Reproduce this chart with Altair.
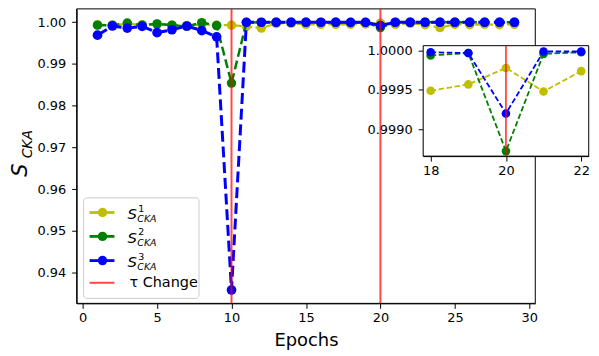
import altair as alt
import pandas as pd

# ---------------- data ----------------
epochs = list(range(1, 30))
s1 = [0.9994, 0.9993, 0.9996, 0.9994, 0.9995, 0.9993, 0.9992, 0.9995, 0.9993, 0.9993,
      0.9990, 0.9986, 0.9997, 0.9997, 0.9995, 0.9995, 0.9995, 0.99949, 0.99957, 0.99978,
      0.99948, 0.99974, 0.9994, 0.9987, 0.9995, 0.9994, 0.9995, 0.9994, 0.9995]
s2 = [0.9993, 0.9993, 0.9998, 0.9993, 0.9996, 0.9993, 0.9990, 0.9999, 0.9992, 0.9854,
      0.99995, 0.99997, 0.99998, 0.99998, 0.99998, 0.99997, 0.99998, 0.99994, 0.99997, 0.99872,
      0.99996, 0.99998, 0.99998, 0.99998, 0.99998, 0.99998, 0.99998, 0.99998, 0.99998]
s3 = [0.9969, 0.9991, 0.9986, 0.9990, 0.9975, 0.9982, 0.9991, 0.9980, 0.9965, 0.9358,
      0.99998, 0.99999, 0.99999, 0.99999, 0.99999, 0.99999, 0.99999, 0.99998, 0.99997, 0.9992,
      0.99999, 0.99999, 0.99999, 0.99999, 0.99999, 0.99999, 0.99999, 0.99999, 0.99999]
tau_epochs = [10, 20]
inset_epochs = [18, 19, 20, 21, 22]
inset_tau = [20]

x_ticks = [0, 5, 10, 15, 20, 25, 30]
y_ticks = [0.94, 0.95, 0.96, 0.97, 0.98, 0.99, 1.00]
inset_x_ticks = [18, 20, 22]
inset_y_ticks = [0.9990, 0.9995, 1.0000]

main_x_domain = [-0.4, 30.4]
main_y_domain = [0.9326, 1.0032]
inset_x_domain = [17.8, 22.2]
inset_y_domain = [0.998656, 1.000064]

legend_labels = ["1", "2", "3"]

# ---------------- styles ----------------
FONT = "DejaVu Sans"
W, H = 461, 296
YEL, GRN, BLU, RED = "#bfbf00", "#008000", "#0000ff", "#ff0000"

df = pd.DataFrame({"epoch": epochs, "s1": s1, "s2": s2, "s3": s3})
tau_df = pd.DataFrame({"epoch": tau_epochs})
inset_df = df[df["epoch"].isin(inset_epochs)]
inset_tau_df = pd.DataFrame({"epoch": inset_tau,
                             "y0": [inset_y_domain[0]], "y1": [inset_y_domain[1]]})
frame_df = pd.DataFrame({"x0": [inset_x_domain[0]], "x1": [inset_x_domain[1]],
                         "y0": [inset_y_domain[0]], "y1": [inset_y_domain[1]]})
one = pd.DataFrame({"a": [0]})

common_axis = dict(tickSize=5, tickColor="black", tickWidth=1, domainColor="black",
                   domainWidth=1, labelColor="black", labelFont=FONT, labelFontSize=13,
                   grid=False)

main_x_scale = alt.Scale(domain=main_x_domain, nice=False, zero=False)
main_y_scale = alt.Scale(domain=main_y_domain, nice=False, zero=False)
main_x_axis = alt.Axis(values=x_ticks, format="d", title="Epochs", titleFont=FONT,
                       titleFontSize=18, titleFontWeight="normal", titleColor="black",
                       titlePadding=7, labelPadding=3, **common_axis)
main_y_axis = alt.Axis(values=y_ticks, format=".2f", title=None, labelPadding=6,
                       **common_axis)

ins_x_scale = alt.Scale(domain=inset_x_domain, range=[348.3, 514.7], nice=False, zero=False)
ins_y_scale = alt.Scale(domain=inset_y_domain, range=[148, 37], nice=False, zero=False)
ins_x_axis = alt.Axis(values=inset_x_ticks, format="d", title=None, orient="bottom",
                      offset=-(H - 148), labelPadding=3, **common_axis)
ins_y_axis = alt.Axis(values=inset_y_ticks, format=".4f", title=None, orient="left",
                      offset=-348.3, labelPadding=6, **common_axis)


def mx(field="epoch"):
    return alt.X(f"{field}:Q", scale=main_x_scale, axis=main_x_axis)


def my(field):
    return alt.Y(f"{field}:Q", scale=main_y_scale, axis=main_y_axis)


def ix(field="epoch"):
    return alt.X(f"{field}:Q", scale=ins_x_scale, axis=ins_x_axis)


def iy(field):
    return alt.Y(f"{field}:Q", scale=ins_y_scale, axis=ins_y_axis)


def series(data, field, color, width, dash, size, xf, yf):
    return alt.Chart(data).mark_line(
        color=color, strokeWidth=width, strokeDash=dash,
        point=alt.OverlayMarkDef(filled=True, size=size, color=color, opacity=1),
    ).encode(x=xf(), y=yf(field))


# ---------------- main panel ----------------
main_frame = alt.Chart(one).mark_rect(fill="white", fillOpacity=0, stroke="black",
                                      strokeWidth=1).encode(
    x=alt.value(0), x2=alt.value("width"), y=alt.value(0), y2=alt.value("height"))

m1 = series(df, "s1", YEL, 2.2, [7.4, 3.2], 90, mx, my)
m2 = series(df, "s2", GRN, 2.5, [9, 4], 90, mx, my)
m3 = series(df, "s3", BLU, 3, [11, 4.8], 95, mx, my)
m_tau = alt.Chart(tau_df).mark_rule(color=RED, strokeWidth=2, opacity=0.72).encode(x=mx())

ytitle_s = alt.Chart(one).mark_text(text="S", font=FONT, fontSize=21, fontStyle="italic",
                                     angle=270, align="center", baseline="middle",
                                     color="black").encode(x=alt.value(-56), y=alt.value(162))
ytitle_sub = alt.Chart(one).mark_text(text="CKA", font=FONT, fontSize=14, fontStyle="italic",
                                       angle=270, align="center", baseline="middle",
                                       color="black").encode(x=alt.value(-49), y=alt.value(136))

main = alt.layer(main_frame, m1, m2, m3, m_tau, ytitle_s, ytitle_sub)

# ---------------- legend ----------------
leg_box = alt.Chart(one).mark_rect(fill="white", fillOpacity=0.8, stroke="#cccccc",
                                   strokeWidth=1, cornerRadius=3).encode(
    x=alt.value(7), x2=alt.value(123), y=alt.value(190), y2=alt.value(291))
leg_layers = [leg_box]
rows = [204.7, 228.7, 253.0]
for lab, col, ry in zip(legend_labels, [YEL, GRN, BLU], rows):
    leg_layers.append(alt.Chart(one).mark_rule(color=col, strokeWidth=2.8).encode(
        x=alt.value(13), x2=alt.value(38), y=alt.value(ry)))
    leg_layers.append(alt.Chart(one).mark_point(filled=True, color=col, size=90, opacity=1,
                                                shape="circle").encode(
        x=alt.value(26), y=alt.value(ry)))
    leg_layers.append(alt.Chart(one).mark_text(text="S", font=FONT, fontSize=15,
                                               fontStyle="italic", align="left",
                                               baseline="middle", color="black").encode(
        x=alt.value(51), y=alt.value(ry + 1.5)))
    leg_layers.append(alt.Chart(one).mark_text(text=lab, font=FONT, fontSize=9.5,
                                               align="left", baseline="middle",
                                               color="black").encode(
        x=alt.value(62), y=alt.value(ry - 4)))
    leg_layers.append(alt.Chart(one).mark_text(text="CKA", font=FONT, fontSize=9.5,
                                               fontStyle="italic", align="left",
                                               baseline="middle", color="black").encode(
        x=alt.value(61), y=alt.value(ry + 6.5)))
leg_layers.append(alt.Chart(one).mark_rule(color=RED, strokeWidth=2, opacity=0.72).encode(
    x=alt.value(13), x2=alt.value(38), y=alt.value(275.3)))
leg_layers.append(alt.Chart(one).mark_text(text="τ Change", font=FONT, fontSize=14.5,
                                           align="left", baseline="middle",
                                           color="black").encode(
    x=alt.value(53), y=alt.value(275.3)))
legend = alt.layer(*leg_layers)

# ---------------- inset ----------------
ins_frame = alt.Chart(frame_df).mark_rect(fill="white", stroke="black", strokeWidth=1).encode(
    x=ix("x0"), x2="x1:Q", y=iy("y0"), y2="y1:Q")
i1 = series(inset_df, "s1", YEL, 1.8, [5.5, 2.6], 75, ix, iy)
i2 = series(inset_df, "s2", GRN, 1.8, [5.5, 2.6], 75, ix, iy)
i3 = series(inset_df, "s3", BLU, 1.8, [5.5, 2.6], 75, ix, iy)
i_tau = alt.Chart(inset_tau_df).mark_rule(color=RED, strokeWidth=1.8, opacity=0.72).encode(
    x=ix(), y=iy("y0"), y2="y1:Q")
inset = alt.layer(ins_frame, i1, i2, i3, i_tau)

chart = alt.layer(main, legend, inset).resolve_scale(
    x="independent", y="independent"
).properties(
    width=W, height=H,
    padding={"left": 69, "top": 0, "right": 56, "bottom": 46},
    autosize=alt.AutoSizeParams(type="none"),
).configure_view(stroke=None)

chart.save("out.html", embed_options={"renderer": "svg", "actions": False})
